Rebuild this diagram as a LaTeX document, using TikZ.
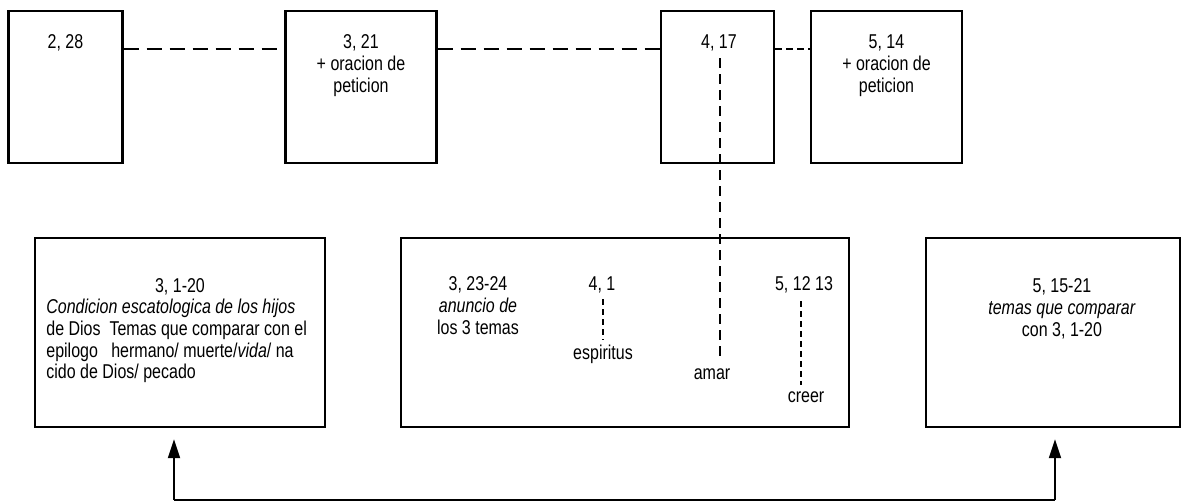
\documentclass[tikz,border=0pt]{standalone}
\usepackage{fontspec}
\setmainfont{Liberation Sans}[FakeStretch=0.8]
\usetikzlibrary{arrows.meta,calc}
\tikzset{
  box/.style={draw, line width=1.2pt, inner sep=0pt},
  txt/.style={inner sep=0pt, align=center, font=\fontsize{10pt}{11pt}\selectfont},
  txtl/.style={inner sep=0pt, align=left, font=\fontsize{10pt}{10.8pt}\selectfont},
  conn/.style={line width=0.9pt, dash pattern=on 7.5pt off 4pt},
  fconn/.style={line width=0.8pt, dash pattern=on 3.5pt off 2pt},
  vconn/.style={line width=0.9pt, dash pattern=on 5pt off 3pt},
  sconn/.style={line width=0.7pt, dash pattern=on 3pt off 2pt},
  link/.style={line width=1pt},
  uparrow/.style={line width=1pt, -{Triangle[length=9.5pt,width=6pt]}, shorten >=5.5pt},
}
\begin{document}
\begin{tikzpicture}[x=0.5pt,y=-0.5pt]
\fill[white] (0,0) rectangle (1183,502);
\useasboundingbox (0,0) rectangle (1183,502);
% top boxes
\node[box, minimum width=57pt, minimum height=76pt] (A) at (65.5,87) {};
\node[box, minimum width=75.5pt, minimum height=76pt] (B) at (361,87) {};
\node[box, minimum width=56.5pt, minimum height=76pt] (C) at (717.5,87) {};
\node[box, minimum width=75.5pt, minimum height=76pt] (D) at (886.5,87) {};
% bottom boxes
\node[box, minimum width=145pt, minimum height=94.5pt] (E) at (180,332.5) {};
\node[box, minimum width=224pt, minimum height=94.5pt] (F) at (625,332.5) {};
\node[box, minimum width=127pt, minimum height=94.5pt] (G) at (1053,332.5) {};
% top texts
\node[txt, anchor=north] (tA) at (65.5,34) {2, 28};
\node[txt, anchor=north] (tB) at (361,34) {3, 21\\+ oracion de\\peticion};
\node[txt, anchor=north] (tC) at (719,34) {4, 17};
\node[txt, anchor=north] (tD) at (886.5,34) {5, 14\\+ oracion de\\peticion};
% top connectors
\coordinate (row) at (0,49);
\draw[conn] (A.east |- row) -- (B.west |- row);
\draw[conn] (B.east |- row) -- (C.west |- row);
\draw[fconn] (C.east |- row) -- (D.west |- row);
% E texts
\node[txt, anchor=north] (tE1) at (180,278) {3, 1-20};
\node[txtl, anchor=north west] (tE2) at (46,299) {\textit{Condicion escatologica de los hijos}\\de Dios~~Temas que comparar con el\\epilogo~~~hermano/ muerte/\textit{vida}/ na\\cido de Dios/ pecado};
% F texts
\node[txt, anchor=north] (tF1) at (478,276) {3, 23-24\\\textit{anuncio de}\\los 3 temas};
\node[txt, anchor=north] (t41) at (602,276) {4, 1};
\node[txt, anchor=north] (esp) at (603,345) {espiritus};
\node[txt, anchor=north] (amar) at (712,368) {amar};
\node[txt, anchor=north] (t512) at (804,276) {5, 12 13};
\node[txt, anchor=north] (creer) at (806,391) {creer};
% G texts
\node[txt, anchor=north] (tG) at (1062,278) {5, 15-21\\\textit{temas que comparar}\\con 3, 1-20};
% inner dashed links
\draw[vconn] ($(tC.south)+(1,7)$) -- ($(tC.south |- amar.north)+(1,-6)$);
\draw[sconn] ($(t41.south)+(1,6)$) -- ($(t41.south |- esp.north)+(1,-5)$);
\draw[sconn] ($(t512.south)+(-3,8)$) -- ($(t512.south |- creer.north)+(-3,-6)$);
% bottom arrows
\coordinate (bl) at (174,500);
\coordinate (br) at (1055,500);
\draw[link] (bl) -- (br);
\draw[uparrow] (bl) -- (bl |- E.south);
\draw[uparrow] (br) -- (br |- G.south);
\end{tikzpicture}
\end{document}
